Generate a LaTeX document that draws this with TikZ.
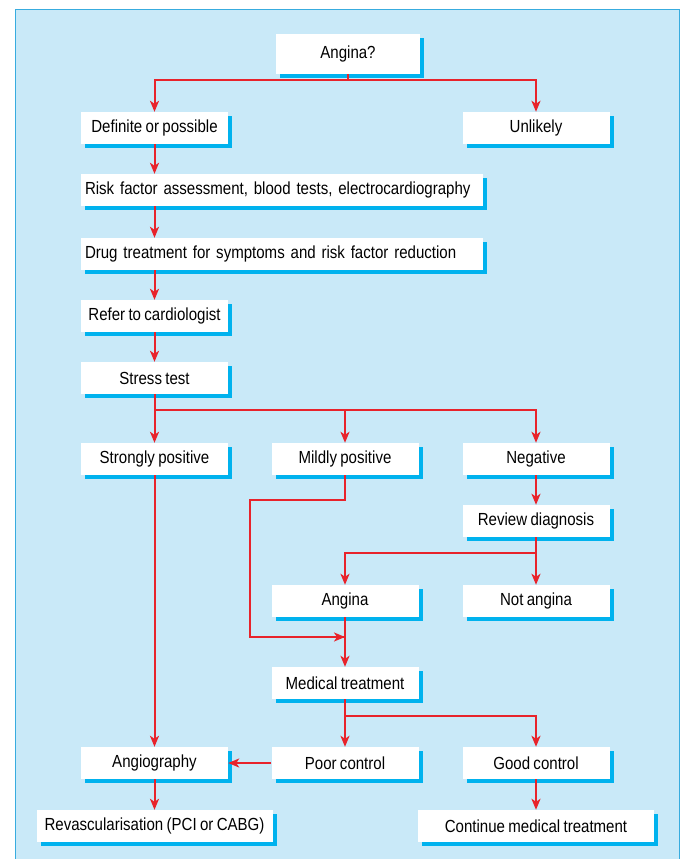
\documentclass[tikz,border=0pt]{standalone}
\usepackage{fontspec}
\setmainfont{Liberation Sans}[FakeStretch=0.86,WordSpace=0.8]
\usetikzlibrary{arrows.meta,shadows}
\definecolor{panelblue}{HTML}{C9E9F8}
\definecolor{shadowblue}{HTML}{00B2EE}
\definecolor{frameblue}{HTML}{38ACDF}
\definecolor{arrowred}{HTML}{E8232B}
\begin{document}
\begin{tikzpicture}[
  x=1pt, y=-1pt,
  box/.style={fill=white, inner sep=0pt, minimum width=147pt, minimum height=32pt,
    font=\fontsize{17.5}{20}\selectfont,
    drop shadow={shadow xshift=4pt, shadow yshift=-4pt, opacity=1, fill=shadowblue}},
  widebox/.style={box, text width=394pt, inner xsep=4pt, align=left},
  flow/.style={draw=arrowred, line width=2pt, -{Stealth[length=11pt,width=9pt,inset=3pt]}},
  link/.style={draw=arrowred, line width=2pt}
]
\useasboundingbox (0,0) rectangle (682,859);
\fill[panelblue] (15,10) rectangle (679,865);
\draw[frameblue, line width=1pt] (15,865) -- (15,10) -- (679,10) -- (679,865);

% boxes
\node[box, minimum width=144pt, minimum height=40pt] (angq) at (348,54) {Angina?};
\node[box] (defp) at (154.5,128) {Definite or possible};
\node[box] (unlk) at (536,128) {Unlikely};
\node[widebox] (risk) at (282,190) {Risk factor assessment, blood tests, electrocardiography};
\node[widebox] (drug) at (282,254) {Drug treatment for symptoms and risk factor reduction};
\node[box] (refer) at (154.5,316) {Refer to cardiologist};
\node[box] (stress) at (154.5,378) {Stress test};
\node[box] (strong) at (154.5,459) {Strongly positive};
\node[box] (mild) at (345,459) {Mildly positive};
\node[box] (neg) at (536,459) {Negative};
\node[box] (review) at (536,521) {Review diagnosis};
\node[box] (angina) at (345,601) {Angina};
\node[box] (notang) at (536,601) {Not angina};
\node[box] (medt) at (345,683) {Medical treatment};
\node[box] (angio) at (154.5,763) {Angiography};
\node[box] (poor) at (345,763) {Poor control};
\node[box] (good) at (536,763) {Good control};
\node[box, minimum width=236pt] (revasc) at (154.5,826) {Revascularisation (PCI or CABG)};
\node[box, minimum width=236pt] (cont) at (536,826) {Continue medical treatment};
\coordinate (joinM) at (345,637);

% connectors
\draw[flow] (angq.south) -- ++(0,6) -| (defp.north);
\draw[flow] (angq.south) -- ++(0,6) -| (unlk.north);
\draw[flow] (defp) -- (defp |- risk.north);
\draw[flow] (defp |- risk.south) -- (defp |- drug.north);
\draw[flow] (defp |- drug.south) -- (refer);
\draw[flow] (refer) -- (stress);
\draw[flow] (stress.south) -- ++(0,16) -| (strong.north);
\draw[flow] (stress.south) -- ++(0,16) -| (mild.north);
\draw[flow] (stress.south) -- ++(0,16) -| (neg.north);
\draw[flow] (strong) -- (angio);
\draw[link] (mild.south) -- ++(0,25) -- ++(-95,0) |- (joinM);
\draw[flow] (joinM) ++(-16,0) -- (joinM);
\draw[flow] (neg) -- (review);
\draw[flow] (review.south) -- ++(0,16) -| (angina.north);
\draw[flow] (review) -- (notang);
\draw[flow] (angina) -- (medt);
\draw[flow] (medt.south) -- ++(0,17) -| (good.north);
\draw[flow] (medt) -- (poor);
\draw[flow] (poor) -- (angio);
\draw[flow] (angio) -- (revasc);
\draw[flow] (good) -- (cont);
\end{tikzpicture}
\end{document}
